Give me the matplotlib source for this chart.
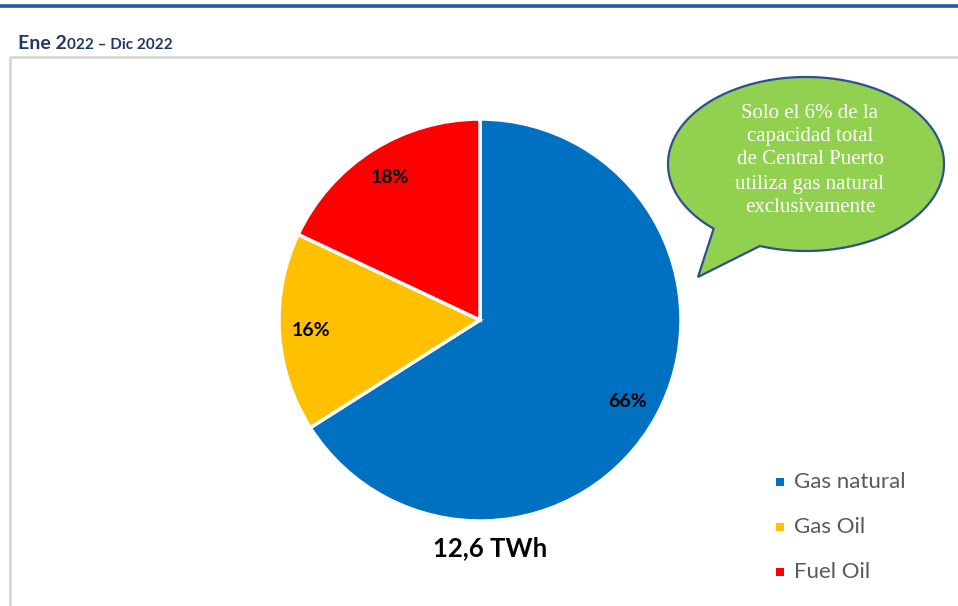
import numpy as np
import matplotlib
matplotlib.use("Agg")
import matplotlib.pyplot as plt
from matplotlib.patches import Polygon, Rectangle

categories = ["Gas natural", "Gas Oil", "Fuel Oil"]
shares = [66, 16, 18]
colors = ["#0070C0", "#FFC000", "#FF0000"]
pct_labels = ["66%", "16%", "18%"]
total_label = "12,6 TWh"
callout_lines = ["Solo el 6% de la", "capacidad total", "de Central Puerto",
                 "utiliza gas natural", "exclusivamente"]

W, H = 958, 606
fig = plt.figure(figsize=(W / 100, H / 100), dpi=100)
fig.patch.set_facecolor("white")

# overlay axes in pixel coordinates (y down)
ov = fig.add_axes([0, 0, 1, 1])
ov.set_xlim(0, W)
ov.set_ylim(H, 0)
ov.axis("off")

# top blue rule
ov.plot([0, W], [6, 6], color="#1F5AA6", lw=2.6, solid_capstyle="butt")
# gray frame
ov.plot([10, 10, W + 5], [H + 5, 57, 57], color="#D9D9D9", lw=2.0)

# title
t1 = ov.text(18, 49, "Ene 2", fontsize=14, fontweight="bold", color="#1F3864",
             family="Lato", ha="left", va="baseline")
fig.canvas.draw()
bb = t1.get_window_extent()
x_end = bb.x1
ov.annotate("022 – Dic 2022", xy=(x_end, H - 49), xycoords="figure pixels",
            fontsize=11, fontweight="bold", color="#1F3864", family="Lato",
            ha="left", va="baseline")

# pie
cx, cy, r = 480, 320, 201
ax = fig.add_axes([(cx - r) / W, (H - (cy + r)) / H, 2 * r / W, 2 * r / H])
wedges, texts = ax.pie(shares, colors=colors, startangle=90, counterclock=False,
                       labels=pct_labels, labeldistance=0.84,
                       wedgeprops=dict(edgecolor="white", linewidth=2.5),
                       textprops=dict(fontsize=14, fontweight="bold", color="black",
                                      family="Lato", ha="center", va="center"))
for t in texts:
    t.set_ha("center")
    t.set_va("center")
ax.set_xlim(-1.0, 1.0)
ax.set_ylim(-1.0, 1.0)
ax.set_aspect("equal")
ax.set_clip_on(False)
for w in wedges:
    w.set_clip_on(False)

ov.text(490, 548, total_label, fontsize=18.5, fontweight="bold", color="black",
        family="Lato", ha="center", va="center")

# legend
leg_y = [482, 527, 572]
for cat, col, y in zip(categories, colors, leg_y):
    ov.add_patch(Rectangle((776, y - 4), 8, 8, facecolor=col, edgecolor="none"))
    ov.text(794, y, cat, fontsize=16, color="#595959", family="Lato",
            ha="left", va="center")

# speech bubble
ex, ey, a, b = 806, 164, 138, 87
t0, t1a = np.deg2rad(132), np.deg2rad(109.5 + 360)
tt = np.linspace(t0, t1a, 300)
pts = np.column_stack([ex + a * np.cos(tt), ey + b * np.sin(tt)])
pts = np.vstack([pts, [[698, 277]]])
ov.add_patch(Polygon(pts, closed=True, facecolor="#92D050", edgecolor="#2F4F8F",
                     lw=1.6, zorder=3))
ys = [113, 137, 160, 184, 207]
for line, y in zip(callout_lines, ys):
    ov.text(810, y, line, fontsize=15, color="white", family="Liberation Serif",
            ha="center", va="center", zorder=4)

fig.savefig("out.png", dpi=100)
